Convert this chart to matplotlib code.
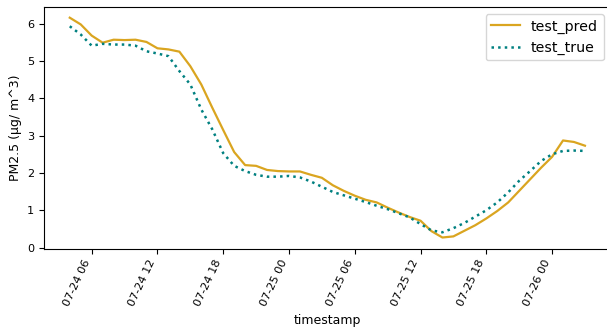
import matplotlib
matplotlib.use("Agg")
import matplotlib.pyplot as plt
import matplotlib.dates as mdates
import pandas as pd

timestamps = pd.date_range("2023-07-24 04:00", periods=48, freq="h")

test_pred = [6.16, 5.98, 5.68, 5.49, 5.57, 5.56, 5.57, 5.51, 5.34, 5.31,
             5.25, 4.86, 4.37, 3.75, 3.15, 2.56, 2.21, 2.19, 2.08, 2.05,
             2.04, 2.04, 1.95, 1.87, 1.67, 1.52, 1.39, 1.28, 1.21, 1.07,
             0.94, 0.82, 0.72, 0.44, 0.27, 0.30, 0.45, 0.60, 0.78, 0.98,
             1.21, 1.52, 1.83, 2.14, 2.43, 2.87, 2.83, 2.73]

test_true = [5.93, 5.71, 5.41, 5.46, 5.44, 5.44, 5.41, 5.26, 5.20, 5.13,
             4.73, 4.37, 3.70, 3.17, 2.53, 2.19, 2.05, 1.95, 1.90, 1.90,
             1.92, 1.88, 1.77, 1.63, 1.49, 1.40, 1.31, 1.22, 1.12, 1.03,
             0.92, 0.81, 0.63, 0.46, 0.41, 0.52, 0.66, 0.83, 1.00, 1.21,
             1.48, 1.79, 2.05, 2.32, 2.50, 2.59, 2.60, 2.59]

fig = plt.figure(figsize=(6.07, 3.31), dpi=100)
ax = fig.add_axes([44 / 607, 1 - 248.5 / 331, (610.7 - 44) / 607, (248.5 - 6.7) / 331])

ax.plot(timestamps, test_pred, color="#DAA520", linewidth=1.6, label="test_pred")
ax.plot(timestamps, test_true, color="#008080", linewidth=1.8, linestyle=":", label="test_true")

ax.xaxis.set_major_locator(mdates.HourLocator(byhour=[0, 6, 12, 18]))
ax.xaxis.set_major_formatter(mdates.DateFormatter("%m-%d %H"))
ax.tick_params(axis="both", labelsize=8.1)
for lbl in ax.get_xticklabels():
    lbl.set_rotation(65)
    lbl.set_ha("right")

ax.set_xlabel("timestamp", fontsize=9)
ax.set_ylabel("PM2.5 (μg/ m^3)", fontsize=9)
ax.legend(loc="upper right", fontsize=10.2)

fig.savefig("out.png", dpi=100)
